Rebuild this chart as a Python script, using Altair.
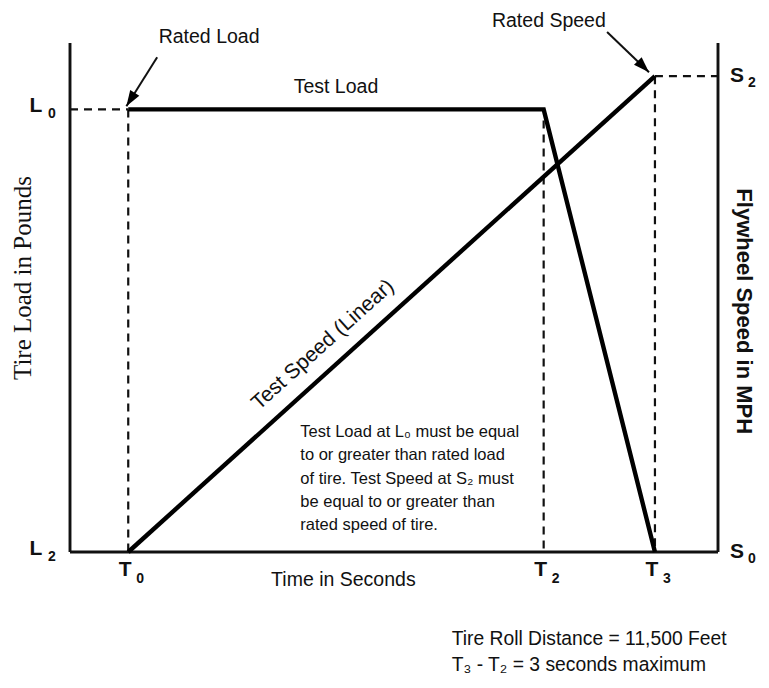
import altair as alt
import pandas as pd

# ---------------- values ----------------
# time axis in seconds (T0 = 0, T3 - T2 = 3 s)
X_MIN, X_MAX = -1.57, 15.9
T0, T2, T3 = 0.0, 11.2, 14.2
# vertical axis: percent of rated load (speed drawn on the same scale)
Y_MIN, Y_MAX = 0.0, 115.0
L2, L0 = 0.0, 100.0
S0, S2 = 0.0, 107.5

load_time = [T0, T2, T3]
load_value = [L0, L0, L2]
speed_time = [T0, T3]
speed_value = [S0, S2]

# dashed guide segments
guide_x = [X_MIN, T0, T2, T3, T3]
guide_y = [L0, L0, 97.5, S2, S2]
guide_x2 = [T0, T0, T2, T3, X_MAX]
guide_y2 = [L0, L2, L2, L2, S2]

# frame (left axis, right axis, bottom axis)
frame_x = [X_MIN, X_MAX, X_MIN]
frame_y = [Y_MIN, Y_MIN, Y_MIN]
frame_x2 = [X_MIN, X_MAX, X_MAX]
frame_y2 = [Y_MAX, Y_MAX, Y_MIN]

# tick letters and subscripts
left_letters = ["L", "L"]
left_subs = ["0", "2"]
left_values = [L0, L2]
right_letters = ["S", "S"]
right_subs = ["2", "0"]
right_values = [S2, S0]
bottom_letters = ["T", "T", "T"]
bottom_subs = ["0", "2", "3"]
bottom_values = [T0, T2, T3]

# arrows: start -> tip
arrow_names = ["Rated Load", "Rated Speed"]
arrow_x = [0.78, 12.91]
arrow_y = [111.8, 117.5]
arrow_tip_x = [-0.05, 14.04]
arrow_tip_y = [100.7, 108.4]

# annotation texts
label_text = ["Rated Load", "Rated Speed", "Test Load", "Time in Seconds"]
label_x = [2.18, 11.34, 5.6, 5.8]
label_y = [116.4, 120.0, 105.1, -6.3]

speed_label = ["Test Speed (Linear)"]
speed_label_x = [5.25]
speed_label_y = [46.8]

left_title = ["Tire Load in Pounds"]
left_title_x = [-2.84]
left_title_y = [61.9]
right_title = ["Flywheel Speed in MPH"]
right_title_x = [16.6]
right_title_y = [54.4]

note_lines = [
    "Test Load at L₀ must be equal",
    "to or greater than rated load",
    "of tire.  Test Speed at S₂ must",
    "be equal to or greater than",
    "rated speed of tire.",
]
note_x = [4.64]
note_y = [27.1]

footer_lines = [
    "Tire Roll Distance  = 11,500 Feet",
    "T₃ - T₂ = 3 seconds maximum",
]
footer_x = [8.72]
footer_y = [-19.6]

# ---------------- chart ----------------
SANS = "Liberation Sans, Arial, Helvetica, sans-serif"
SERIF = "Liberation Serif, Times New Roman, serif"
INK = "#111111"

xs = alt.Scale(domain=[X_MIN, X_MAX], nice=False, zero=False)
ys = alt.Scale(domain=[Y_MIN, Y_MAX], nice=False, zero=False)


def base(df, x="x", y="y"):
    return alt.Chart(df).encode(
        x=alt.X(f"{x}:Q", scale=xs, axis=None),
        y=alt.Y(f"{y}:Q", scale=ys, axis=None),
    )


frame_df = pd.DataFrame({"x": frame_x, "y": frame_y, "x2": frame_x2, "y2": frame_y2})
frame = base(frame_df).mark_rule(color=INK, strokeWidth=2.9).encode(
    x2="x2:Q", y2="y2:Q")

guide_df = pd.DataFrame({"x": guide_x, "y": guide_y, "x2": guide_x2, "y2": guide_y2})
guides = base(guide_df).mark_rule(color=INK, strokeWidth=2.2, strokeDash=[8, 6]).encode(
    x2="x2:Q", y2="y2:Q")

load_df = pd.DataFrame({"x": load_time, "y": load_value, "o": list(range(len(load_time)))})
load = base(load_df).mark_line(color="#000000", strokeWidth=4.4, strokeJoin="miter").encode(
    order="o:Q")

speed_df = pd.DataFrame({"x": speed_time, "y": speed_value})
speed = base(speed_df).mark_line(color="#000000", strokeWidth=4.4)

arrow_df = pd.DataFrame({"name": arrow_names, "x": arrow_x, "y": arrow_y,
                         "x2": arrow_tip_x, "y2": arrow_tip_y})
shafts = base(arrow_df).mark_rule(color=INK, strokeWidth=2).encode(x2="x2:Q", y2="y2:Q")
HEAD = "M0,0 L0.34,1 L-0.34,1 Z"
head1 = base(arrow_df.iloc[[0]], "x2", "y2").mark_point(
    shape=HEAD, filled=True, color="#000000", size=1000, angle=212, opacity=1)
head2 = base(arrow_df.iloc[[1]], "x2", "y2").mark_point(
    shape=HEAD, filled=True, color="#000000", size=1000, angle=135, opacity=1)

# tick letters
left_df = pd.DataFrame({"x": [X_MIN] * 2, "y": left_values, "t": left_letters, "s": left_subs})
right_df = pd.DataFrame({"x": [X_MAX] * 2, "y": right_values, "t": right_letters, "s": right_subs})
bottom_df = pd.DataFrame({"x": bottom_values, "y": [Y_MIN] * 3, "t": bottom_letters, "s": bottom_subs})

LET = dict(font=SANS, fontSize=21, fontWeight="bold", color=INK, align="center", baseline="middle")
SUB = dict(font=SANS, fontSize=14, fontWeight="bold", color=INK, align="center", baseline="middle")
left_let = base(left_df).mark_text(dx=-34, dy=-3, **LET).encode(text="t:N")
left_sub = base(left_df).mark_text(dx=-18, dy=5, **SUB).encode(text="s:N")
right_let = base(right_df).mark_text(dx=19, dy=0, **LET).encode(text="t:N")
right_sub = base(right_df).mark_text(dx=34, dy=7, **SUB).encode(text="s:N")
bottom_let = base(bottom_df).mark_text(dx=-3, dy=18, **LET).encode(text="t:N")
bottom_sub = base(bottom_df).mark_text(dx=12, dy=27, **SUB).encode(text="s:N")

label_df = pd.DataFrame({"x": label_x, "y": label_y, "t": label_text})
labels = base(label_df).mark_text(font=SANS, fontSize=19.5, color=INK, align="center",
                                  baseline="middle").encode(text="t:N")

sl_df = pd.DataFrame({"x": speed_label_x, "y": speed_label_y, "t": speed_label})
speed_lab = base(sl_df).mark_text(font=SANS, fontSize=21, color=INK, align="center",
                                  baseline="middle", angle=318).encode(text="t:N")

lt_df = pd.DataFrame({"x": left_title_x, "y": left_title_y, "t": left_title})
left_t = base(lt_df).mark_text(font=SERIF, fontSize=25, color=INK, align="center",
                               baseline="middle", angle=270).encode(text="t:N")

rt_df = pd.DataFrame({"x": right_title_x, "y": right_title_y, "t": right_title})
right_t = base(rt_df).mark_text(font=SANS, fontSize=22, fontWeight="bold", color=INK,
                                align="center", baseline="middle", angle=90).encode(text="t:N")

note_df = pd.DataFrame({"x": note_x, "y": note_y, "t": ["\n".join(note_lines)]})
note = base(note_df).mark_text(font=SANS, fontSize=16.5, color=INK, align="left",
                               baseline="middle", lineBreak="\n", lineHeight=23.3).encode(text="t:N")

foot_df = pd.DataFrame({"x": footer_x, "y": footer_y, "t": ["\n".join(footer_lines)]})
foot = base(foot_df).mark_text(font=SANS, fontSize=19.3, color=INK, align="left",
                               baseline="middle", lineBreak="\n", lineHeight=26).encode(text="t:N")

chart = alt.layer(
    guides, frame, load, speed, shafts, head1, head2,
    left_let, left_sub, right_let, right_sub, bottom_let, bottom_sub,
    labels, speed_lab, left_t, right_t, note, foot,
).properties(
    width=648, height=509,
    autosize=alt.AutoSizeParams(type="none"),
    padding={"left": 62, "top": 35, "right": 40, "bottom": 122},
    background="white",
).configure_view(stroke=None)

chart.save("out.html", embed_options={"renderer": "svg", "actions": False})
